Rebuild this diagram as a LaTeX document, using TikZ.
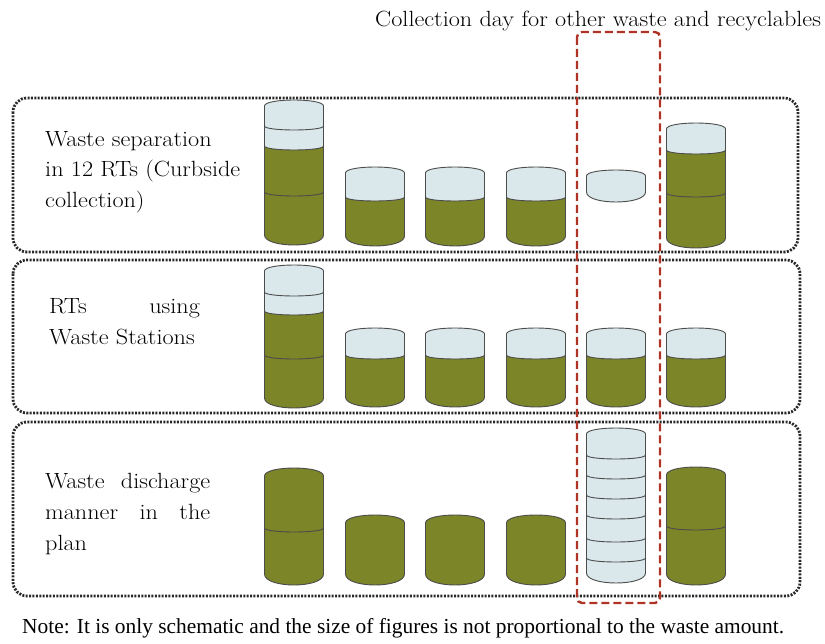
\documentclass[tikz,border=0pt]{standalone}
\usepackage{fontspec}
\usepackage{graphicx}
\newfontfamily\notefont{Liberation Serif}
\definecolor{wgreen}{RGB}{124,133,40}
\definecolor{wlight}{RGB}{218,232,236}
\definecolor{wred}{RGB}{176,52,38}
\definecolor{wdot}{RGB}{40,40,40}
\def\ryT{6}
\def\ryB{10}
% top arc (bulging up) from left to right at height y
\def\toparc#1#2{({#1-29.5},#2) .. controls ({#1-29.5},{#2-1.333*\ryT}) and ({#1+29.5},{#2-1.333*\ryT}) .. ({#1+29.5},#2)}
% bottom arc (bulging down) from right to left at height y
\def\botarc#1#2{.. controls ({#1+29.5},{#2+1.333*\ryB}) and ({#1-29.5},{#2+1.333*\ryB}) .. ({#1-29.5},#2)}
% divider (sagging down) from left to right
\def\divarc#1#2{({#1-29.5},#2) .. controls ({#1-29.5},{#2+5.333}) and ({#1+29.5},{#2+5.333}) .. ({#1+29.5},#2)}
\newcommand\cyl[6]{%
  \fill[#6] \toparc{#1}{#2} -- ({#1+29.5},#3) \botarc{#1}{#3} -- cycle;
  \if\relax\detokenize{#4}\relax\else
    \fill[wgreen] \divarc{#1}{#4} -- ({#1+29.5},#3) \botarc{#1}{#3} -- cycle;
    \draw[cylline] \divarc{#1}{#4};
  \fi
  \if\relax\detokenize{#5}\relax\else
    \foreach \d in {#5} {\draw[cylline] \divarc{#1}{\d};}
  \fi
  \draw[cylline] \toparc{#1}{#2} -- ({#1+29.5},#3) \botarc{#1}{#3} -- cycle;
}
\begin{document}
\begin{tikzpicture}[x=1pt,y=-1pt,
  cylline/.style={draw=black!70, line width=0.9pt},
  dotbox/.style={draw=wdot, line width=2.8pt, dash pattern=on 2pt off 1.4pt, rounded corners=14pt},
  redbox/.style={draw=wred, line width=2.4pt, dash pattern=on 8pt off 4pt, rounded corners=5pt},
  lbl/.style={inner sep=0pt, anchor=base west, font=\fontsize{22}{26}\selectfont},
  note/.style={inner sep=0pt, anchor=base west, font=\notefont\fontsize{21.4}{25}\selectfont}]
\useasboundingbox (0,0) rectangle (825,644);
% row boxes
\draw[dotbox] (13,98) rectangle (798,252);
\draw[dotbox] (13,260) rectangle (800,413);
\draw[dotbox] (13,422) rectangle (800,596);
% row 1
\cyl{294}{106}{235}{146}{126,192}{wlight}
\cyl{375}{173}{236}{197}{}{wlight}
\cyl{455}{173}{236}{197}{}{wlight}
\cyl{536}{173}{236}{197}{}{wlight}
\cyl{616}{176}{192}{}{}{wlight}
\cyl{696}{129}{238}{150}{193}{wlight}
% row 2
\cyl{294}{271}{398}{311}{292,355}{wlight}
\cyl{375}{334}{397}{355}{}{wlight}
\cyl{455}{334}{397}{355}{}{wlight}
\cyl{536}{334}{397}{355}{}{wlight}
\cyl{616}{334}{397}{355}{}{wlight}
\cyl{696}{334}{397}{355}{}{wlight}
% row 3
\def\ryT{8}\def\ryB{11}
\cyl{294}{476}{574}{}{528}{wgreen}
\cyl{375}{523}{574}{}{}{wgreen}
\cyl{455}{523}{574}{}{}{wgreen}
\cyl{536}{523}{574}{}{}{wgreen}
\cyl{696}{475}{574}{}{526}{wgreen}
\def\ryT{6}\def\ryB{10}
\cyl{616}{434}{573}{}{455,475,495,515,538,558}{wlight}
% red frame
\draw[redbox] (577,32) rectangle (660,603);
% texts
\node[lbl] (head) at (375,27) {\scalebox{1.1}[1]{Collection day for other waste and recyclables}};
\node[lbl] (l1a) at (45,147) {\scalebox{1.1}[1]{Waste separation}};
\node[lbl] (l1b) at (45,177) {\scalebox{1.1}[1]{in 12 RTs (Curbside}};
\node[lbl] (l1c) at (45,208) {\scalebox{1.1}[1]{collection)}};
\node[lbl] (l2a) at (49,314) {\scalebox{1.1}[1]{\makebox[137pt][s]{RTs using}}};
\node[lbl] (l2b) at (49,345) {\scalebox{1.1}[1]{Waste Stations}};
\node[lbl] (l3a) at (45,488) {\scalebox{1.1}[1]{\makebox[150pt][s]{Waste discharge}}};
\node[lbl] (l3b) at (45,519) {\scalebox{1.1}[1]{\makebox[150pt][s]{manner in the}}};
\node[lbl] (l3c) at (45,550) {\scalebox{1.1}[1]{plan}};
\node[note] (nt) at (22,633) {Note: It is only schematic and the size of figures is not proportional to the waste amount.};
\end{tikzpicture}
\end{document}
